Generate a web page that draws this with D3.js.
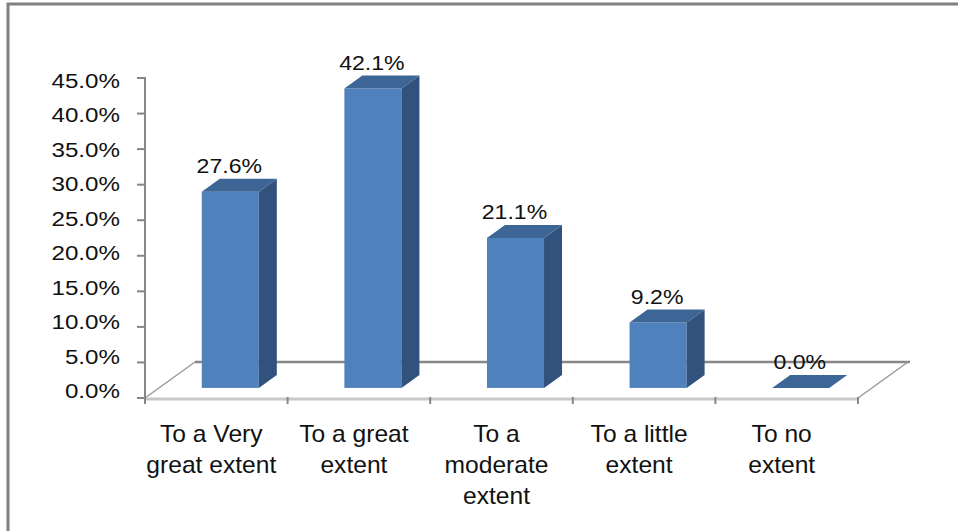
<!DOCTYPE html>
<html>
<head>
<meta charset="utf-8">
<script src="https://cdn.jsdelivr.net/npm/d3@7"></script>
<style>
  body { margin: 0; background: #fff; }
  svg text { font-family: "Liberation Sans", Arial, sans-serif; fill: #111; }
</style>
</head>
<body>
<div class="container"></div>
<script>
// chart data
const categories = ["To a Very\ngreat extent", "To a great\nextent", "To a\nmoderate\nextent", "To a little\nextent", "To no\nextent"];
const values = [0.276, 0.421, 0.211, 0.092, 0.0];
const yTicks = [0, 0.05, 0.10, 0.15, 0.20, 0.25, 0.30, 0.35, 0.40, 0.45];

const width = 958;
const height = 531;

const svg = d3.select(".container")
  .append("svg")
  .attr("width", width)
  .attr("height", height);

// outer frame (only top and left edges visible)
svg.append("path")
  .attr("d", "M8,531 V4 H958")
  .attr("fill", "none")
  .attr("stroke", "#808080")
  .attr("stroke-width", 3);

// scales
const x = d3.scaleBand().domain(categories).range([145, 858]);
const y = d3.scaleLinear().domain([0, 0.45]).range([398, 78]);
const yLabel = d3.scaleLinear().domain([0, 0.45]).range([398, 88]);

// 3d depth of the floor and where the bars sit in it
const depthX = 50, depthY = -36;
const f0 = 0.28, f1 = 0.64;
const barW = x.bandwidth() * 0.4;
const ddx = depthX * (f1 - f0), ddy = depthY * (f1 - f0);

// stretched text helper
const label = (g, tx, ty, txt, size, sx, anchor) =>
  g.append("text")
    .attr("transform", `translate(${tx},${ty}) scale(${sx},1)`)
    .attr("text-anchor", anchor)
    .style("font-size", size + "px")
    .text(txt);

// floor
const x0 = x.range()[0], x1 = x.range()[1], y0 = y(0);
const floor = svg.append("g").attr("fill", "none");
floor.append("line")
  .attr("x1", x0 + depthX).attr("y1", y0 + depthY)
  .attr("x2", x1 + depthX + 2).attr("y2", y0 + depthY)
  .attr("stroke", "#878787").attr("stroke-width", 2.5);
floor.append("line")
  .attr("x1", x0).attr("y1", y0)
  .attr("x2", x0 + depthX).attr("y2", y0 + depthY)
  .attr("stroke", "#9a9a9a").attr("stroke-width", 1.5);
floor.append("line")
  .attr("x1", x1).attr("y1", y0)
  .attr("x2", x1 + depthX).attr("y2", y0 + depthY)
  .attr("stroke", "#9a9a9a").attr("stroke-width", 1.5);
floor.append("line")
  .attr("x1", x0).attr("y1", y0 + 1)
  .attr("x2", x1).attr("y2", y0 + 1)
  .attr("stroke", "#c8c8c8").attr("stroke-width", 3);

// x axis ticks
svg.append("g")
  .selectAll("line")
  .data(d3.range(categories.length + 1))
  .enter()
  .append("line")
  .attr("x1", (i) => x0 + i * x.bandwidth())
  .attr("x2", (i) => x0 + i * x.bandwidth())
  .attr("y1", y0 - 1)
  .attr("y2", y0 + 6)
  .attr("stroke", "#868686")
  .attr("stroke-width", 2);

// y axis
const yAxis = svg.append("g");
yAxis.append("line")
  .attr("x1", x0).attr("x2", x0)
  .attr("y1", y(0.45) - 1).attr("y2", y0 + 1)
  .attr("stroke", "#868686").attr("stroke-width", 2);
yAxis.selectAll(".tick")
  .data(yTicks)
  .enter()
  .append("line")
  .attr("class", "tick")
  .attr("x1", x0 - 8).attr("x2", x0)
  .attr("y1", (d) => y(d)).attr("y2", (d) => y(d))
  .attr("stroke", "#868686").attr("stroke-width", 2);
yTicks.forEach((d) => label(yAxis, 120, yLabel(d), d3.format(".1%")(d), 19.5, 1.24, "end"));

// bars
const bars = svg.append("g");
categories.forEach((c, i) => {
  const bx = x(c) + x.bandwidth() / 2 - barW / 2 + depthX * f0;
  const yt = y(values[i]) + depthY * f0;
  const yb = y(0) + depthY * f0;
  if (yb - yt > 0) {
    bars.append("rect")
      .attr("x", bx).attr("y", yt)
      .attr("width", barW).attr("height", yb - yt)
      .attr("fill", "#4f81bd");
    bars.append("polygon")
      .attr("points", [[bx + barW, yt], [bx + barW + ddx, yt + ddy], [bx + barW + ddx, yb + ddy], [bx + barW, yb]].join(" "))
      .attr("fill", "#31527c");
  }
  bars.append("polygon")
    .attr("points", [[bx, yt], [bx + barW, yt], [bx + barW + ddx, yt + ddy], [bx + ddx, yt + ddy]].join(" "))
    .attr("fill", "#3d6596");
  label(bars, bx + barW / 2 - 1, yt + ddy - 6, d3.format(".1%")(values[i]), 21, 1.1, "middle");
});

// category labels
const cats = svg.append("g");
categories.forEach((c) => {
  c.split("\n").forEach((line, j) => {
    label(cats, x(c) + x.bandwidth() / 2 - 5, 442 + j * 31, line, 23, 1.07, "middle");
  });
});
</script>
</body>
</html>
